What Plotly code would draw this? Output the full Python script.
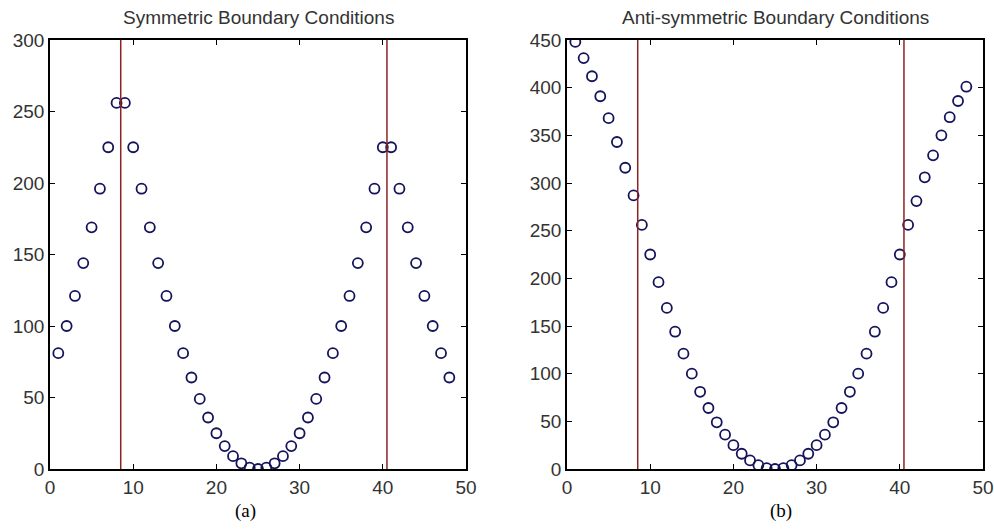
import plotly.graph_objects as go

# ---- data ----
x_idx = list(range(1, 49))
sym_vals = [81, 100, 121, 144, 169, 196, 225, 256, 256, 225, 196, 169, 144, 121, 100, 81,
            64, 49, 36, 25, 16, 9, 4, 1, 0, 1, 4, 9, 16, 25, 36, 49,
            64, 81, 100, 121, 144, 169, 196, 225, 225, 196, 169, 144, 121, 100, 81, 64]
anti_vals = [448, 431, 412, 391, 368, 343, 316, 287, 256, 225, 196, 169, 144, 121, 100, 81,
             64, 49, 36, 25, 16, 9, 4, 1, 0, 1, 4, 9, 16, 25, 36, 49,
             64, 81, 100, 121, 144, 169, 196, 225, 256, 281, 306, 329, 350, 369, 386, 401]
boundaries = [8.5, 40.5]
titles = ["Symmetric Boundary Conditions", "Anti-symmetric Boundary Conditions"]
panel_labels = ["(a)", "(b)"]
x_ticks = [0, 10, 20, 30, 40, 50]
y_ticks_a = [0, 50, 100, 150, 200, 250, 300]
y_ticks_b = [0, 50, 100, 150, 200, 250, 300, 350, 400, 450]

W, H = 994, 530
marker_color = "#14145a"
line_color = "#8b2323"
text_color = "#333333"

fig = go.Figure()

for xa, ya, vals in (("x", "y", sym_vals), ("x2", "y2", anti_vals)):
    fig.add_trace(go.Scatter(x=x_idx, y=vals, mode="markers", xaxis=xa, yaxis=ya,
                             marker=dict(symbol="circle-open", size=10, color=marker_color,
                                         line=dict(width=1.8, color=marker_color)),
                             showlegend=False))

for xr, yr in (("x", "y"), ("x2", "y2")):
    for b in boundaries:
        fig.add_shape(type="line", xref=xr, yref=yr + " domain", x0=b, x1=b, y0=0, y1=1,
                      line=dict(color=line_color, width=1.5), layer="above")

y_dom = [1 - 469 / H, 1 - 40 / H]
dom_a = [50 / W, 466 / W]
dom_b = [567 / W, 983 / W]

axis_common = dict(showgrid=False, zeroline=False, showline=True, linecolor="black",
                   linewidth=1.5, mirror="ticks", ticks="inside", ticklen=5,
                   tickcolor="black", tickwidth=1,
                   tickfont=dict(family="Liberation Sans, Arial, sans-serif", size=19,
                                 color=text_color),
                   automargin=False)

fig.update_layout(
    width=W, height=H,
    margin=dict(l=0, r=0, t=0, b=0),
    paper_bgcolor="white", plot_bgcolor="white",
    xaxis=dict(domain=dom_a, range=[0, 50], tickvals=x_ticks, anchor="y", **axis_common),
    yaxis=dict(domain=y_dom, range=[0, 300], tickvals=y_ticks_a, anchor="x", **axis_common),
    xaxis2=dict(domain=dom_b, range=[0, 50], tickvals=x_ticks, anchor="y2", **axis_common),
    yaxis2=dict(domain=y_dom, range=[0, 450], tickvals=y_ticks_b, anchor="x2", **axis_common),
)

for dom, t, lab, lx in ((dom_a, titles[0], panel_labels[0], 245), (dom_b, titles[1], panel_labels[1], 781)):
    fig.add_annotation(text=t, xref="paper", yref="paper", x=(dom[0] + dom[1]) / 2,
                       y=1 - 18 / H, showarrow=False, xanchor="center", yanchor="middle",
                       font=dict(family="Liberation Sans, Arial, sans-serif", size=19,
                                 color=text_color))
    fig.add_annotation(text=lab, xref="paper", yref="paper", x=lx / W, y=1 - 511 / H,
                       showarrow=False, xanchor="center", yanchor="middle",
                       font=dict(family="Liberation Serif, Times New Roman, serif", size=19,
                                 color="black"))

fig.write_html("out.html")
